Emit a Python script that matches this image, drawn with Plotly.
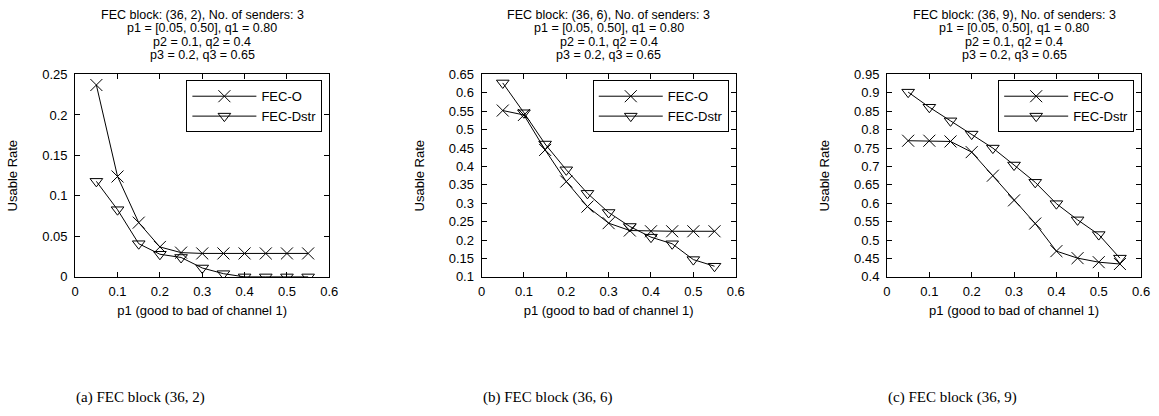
import plotly.graph_objects as go

# p1 sweep (good-to-bad transition probability of channel 1)
p1 = [0.05, 0.10, 0.15, 0.20, 0.25, 0.30, 0.35, 0.40, 0.45, 0.50, 0.55]

# Usable rate per FEC block size
fec_o_36_2 = [0.237, 0.124, 0.067, 0.037, 0.030, 0.029, 0.029, 0.029, 0.029, 0.029, 0.029]
fec_dstr_36_2 = [0.118, 0.083, 0.041, 0.028, 0.024, 0.011, 0.004, 0.000, 0.000, 0.000, 0.000]

fec_o_36_6 = [0.552, 0.540, 0.445, 0.359, 0.291, 0.246, 0.226, 0.224, 0.224, 0.224, 0.224]
fec_dstr_36_6 = [0.627, 0.546, 0.461, 0.391, 0.327, 0.275, 0.237, 0.208, 0.190, 0.147, 0.129]

fec_o_36_9 = [0.770, 0.770, 0.768, 0.739, 0.675, 0.608, 0.545, 0.470, 0.451, 0.440, 0.435]
fec_dstr_36_9 = [0.902, 0.861, 0.824, 0.788, 0.750, 0.704, 0.657, 0.599, 0.555, 0.515, 0.451]

fec_blocks = ["(36, 2)", "(36, 6)", "(36, 9)"]
captions = ["(a) FEC block (36, 2)", "(b) FEC block (36, 6)", "(c) FEC block (36, 9)"]

x_ticks = [0, 0.1, 0.2, 0.3, 0.4, 0.5, 0.6]
x_tick_text = ["0", "0.1", "0.2", "0.3", "0.4", "0.5", "0.6"]

y_ticks = [
    [0, 0.05, 0.10, 0.15, 0.20, 0.25],
    [0.10, 0.15, 0.20, 0.25, 0.30, 0.35, 0.40, 0.45, 0.50, 0.55, 0.60, 0.65],
    [0.40, 0.45, 0.50, 0.55, 0.60, 0.65, 0.70, 0.75, 0.80, 0.85, 0.90, 0.95],
]
y_tick_text = [
    ["0", "0.05", "0.1", "0.15", "0.2", "0.25"],
    ["0.1", "0.15", "0.2", "0.25", "0.3", "0.35", "0.4", "0.45", "0.5", "0.55", "0.6", "0.65"],
    ["0.4", "0.45", "0.5", "0.55", "0.6", "0.65", "0.7", "0.75", "0.8", "0.85", "0.9", "0.95"],
]

series = [
    (fec_o_36_2, fec_dstr_36_2),
    (fec_o_36_6, fec_dstr_36_6),
    (fec_o_36_9, fec_dstr_36_9),
]

W, H = 1159, 416
FONT = "Liberation Sans, Arial, sans-serif"
SERIF = "Liberation Serif, DejaVu Serif, serif"
FS = 13

# plot-area boxes in pixels: (left, right)
panel_px = [(72, 329), (483, 740), (893, 1150)]
top_px, bottom_px = 70, 280

fig = go.Figure()

annotations = []
for i, ((o_vals, d_vals), (lpx, rpx)) in enumerate(zip(series, panel_px)):
    n = "" if i == 0 else str(i + 1)
    xa, ya = "x" + n, "y" + n
    leg = "legend" if i == 0 else "legend" + str(i + 1)

    fig.add_trace(go.Scatter(
        x=p1, y=o_vals, name="FEC-O", mode="lines+markers",
        xaxis=xa, yaxis=ya, legend=leg,
        line=dict(color="black", width=1),
        marker=dict(symbol="x-thin-open", size=12, color="black",
                    line=dict(color="black", width=1)),
    ))
    fig.add_trace(go.Scatter(
        x=p1, y=d_vals, name="FEC-Dstr", mode="lines+markers",
        xaxis=xa, yaxis=ya, legend=leg,
        line=dict(color="black", width=1),
        marker=dict(symbol="triangle-down-open", size=11, color="black",
                    line=dict(color="black", width=1)),
    ))

    dom_x = [lpx / W, rpx / W]
    dom_y = [1 - bottom_px / H, 1 - top_px / H]
    yt = y_ticks[i]
    axis_common = dict(
        showline=True, linecolor="black", linewidth=1, mirror="ticks",
        ticks="inside", ticklen=5, tickcolor="black", tickwidth=1,
        showgrid=False, zeroline=False,
        tickfont=dict(family=FONT, size=FS, color="black"),
    )
    fig.update_layout(**{
        "xaxis" + n: dict(
            domain=dom_x, range=[0, 0.6], tickvals=x_ticks, ticktext=x_tick_text,
            anchor=ya, ticklabelstandoff=2,
            title=dict(text="p1 (good to bad of channel 1)",
                       font=dict(family=FONT, size=FS, color="black"), standoff=8),
            **axis_common),
        "yaxis" + n: dict(
            domain=dom_y, range=[yt[0], yt[-1]], tickvals=yt, ticktext=y_tick_text[i],
            anchor=xa, ticklabelstandoff=4,
            title=dict(text="Usable Rate",
                       font=dict(family=FONT, size=FS, color="black"), standoff=21),
            **axis_common),
        leg: dict(
            x=(rpx - 7) / W, y=1 - 76 / H, xanchor="right", yanchor="top",
            bordercolor="black", borderwidth=1, bgcolor="white",
            font=dict(family=FONT, size=FS, color="black"),
            tracegroupgap=0, itemwidth=64,
        ),
    })

    # four-line panel heading, one line per text
    cx = (lpx + rpx) / 2 / W
    heading = [
        f"FEC block: {fec_blocks[i]}, No. of senders: 3",
        "p1 = [0.05, 0.50], q1 = 0.80",
        "p2 = 0.1, q2 = 0.4",
        "p3 = 0.2, q3 = 0.65",
    ]
    for k, line in enumerate(heading):
        annotations.append(dict(
            text=line, xref="paper", yref="paper", x=cx, y=1 - (8 + 14 * k) / H,
            xanchor="center", yanchor="middle", showarrow=False,
            font=dict(family=FONT, size=12.5, color="black"),
        ))
    annotations.append(dict(
        text=captions[i], xref="paper", yref="paper", x=(lpx - 1) / W, y=1 - 405 / H,
        xanchor="left", yanchor="middle", showarrow=False,
        font=dict(family=SERIF, size=15, color="black"),
    ))

fig.update_layout(
    width=W, height=H, margin=dict(l=0, r=0, t=0, b=0),
    paper_bgcolor="white", plot_bgcolor="white",
    annotations=annotations,
    showlegend=True,
)

fig.write_html("out.html")
